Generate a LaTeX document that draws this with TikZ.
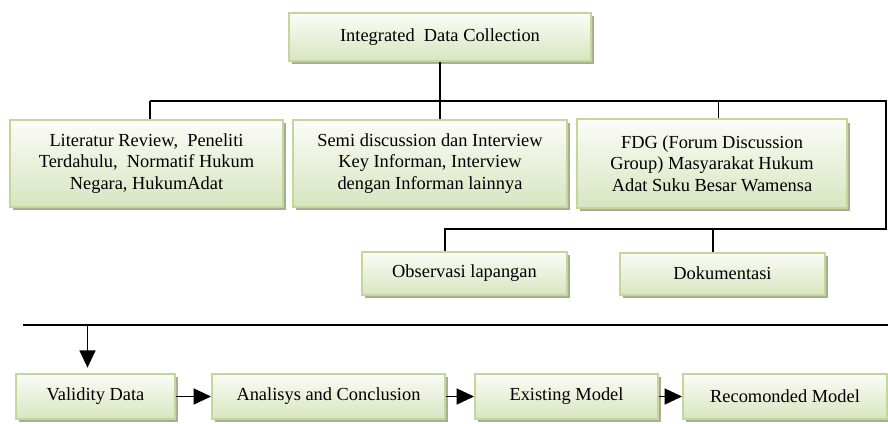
\documentclass[tikz,border=0pt]{standalone}
\usepackage{fontspec}
\setmainfont{Liberation Serif}
\usetikzlibrary{arrows.meta,shadows}

\definecolor{boxrim}{HTML}{C3D69B}
\definecolor{boxtop}{HTML}{FBFCF7}
\definecolor{boxbot}{HTML}{D8E5C0}
\definecolor{boxshade}{HTML}{A7AE93}

\begin{document}
\begin{tikzpicture}[x=0.75pt,y=-0.75pt,
	stage/.style={draw=boxrim,line width=1.5pt,top color=boxtop,bottom color=boxbot,
		drop shadow={shadow xshift=2.5pt,shadow yshift=-2.5pt,fill=boxshade,opacity=1},
		align=center,font=\fontsize{13.8}{16}\selectfont,inner sep=2pt},
	wire/.style={line width=1.2pt},
	flow/.style={line width=1.2pt,-{Triangle[length=13pt,width=12pt]}}]
		\useasboundingbox (0,0) rectangle (888,424);
		% collection stage
		\node[stage,minimum width=226.5pt,minimum height=36pt] (top) at (440,37) {Integrated~ Data Collection};
		\node[stage,minimum width=204.75pt,minimum height=65.25pt] (lit) at (146.5,163.5)
			{Literatur Review,~ Peneliti\\Terdahulu,~ Normatif Hukum\\Negara, HukumAdat};
		\node[stage,minimum width=205.5pt,minimum height=65.25pt] (semi) at (430,163.5)
			{Semi discussion dan Interview\\Key Informan, Interview\\dengan Informan lainnya};
		\node[stage,minimum width=202.5pt,minimum height=66pt] (fdg) at (712,163.5)
			{FDG (Forum Discussion\\Group) Masyarakat Hukum\\Adat Suku Besar Wamensa};
		\node[stage,minimum width=153.75pt,minimum height=32.25pt] (obs) at (464.5,273.5) {Observasi lapangan};
		\node[stage,minimum width=153.75pt,minimum height=31.5pt] (dok) at (722.5,273.5) {Dokumentasi};
		% processing stage
		\node[stage,minimum width=119.25pt,minimum height=33.75pt] (val) at (95.5,396.5) {Validity Data};
		\node[stage,minimum width=174.75pt,minimum height=33.75pt] (ana) at (328.5,396.5) {Analisys and Conclusion};
		\node[stage,minimum width=137.25pt,minimum height=33.75pt] (exi) at (566.5,396.5) {Existing Model};
		\node[stage,minimum width=153pt,minimum height=33.75pt] (rec) at (785,396.5) {Recomonded Model};
		% bus lines
		\coordinate (busL) at (150,101);
		\coordinate (busR) at (886,101);
		\coordinate (busD) at (886,229);
		\coordinate (flowL) at (23,325);
		\coordinate (flowR) at (888,325);
		\draw[wire] (top.south) -- (top.south |- semi.north);
		\draw[wire] (busL) -- (busR) -- (busD) -- ([xshift=-14.5]obs.north |- busD) -- ([xshift=-14.5]obs.north);
		\draw[wire] (busL) -- (busL |- lit.north);
		\draw[wire] ([xshift=5]fdg.north |- busL) -- ([xshift=5]fdg.north);
		\draw[wire] ([xshift=-7]dok.north |- busD) -- ([xshift=-7]dok.north);
		\draw[wire] (flowL) -- (flowR);
		\draw[flow,shorten >=4pt] ([xshift=-6]val.north |- flowL) -- ([xshift=-6]val.north);
		\draw[flow] (val.east) -- (ana.west);
		\draw[flow] (ana.east) -- (exi.west);
		\draw[flow] (exi.east) -- (rec.west);
	\end{tikzpicture}
\end{document}
